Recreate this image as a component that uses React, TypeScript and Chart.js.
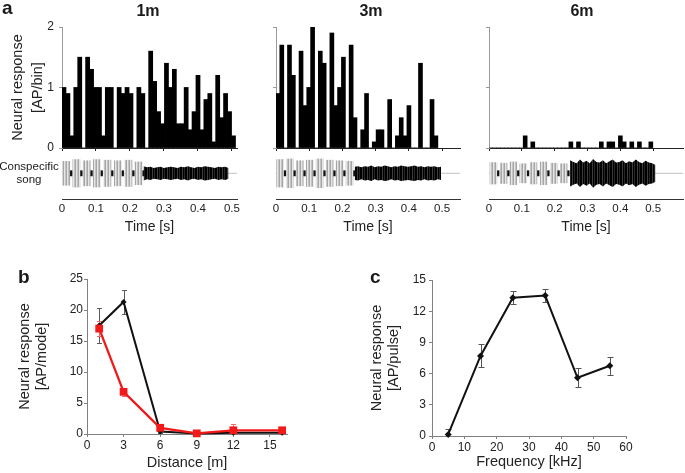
import React, { useEffect, useRef } from 'react';
import { Chart, registerables } from 'chart.js';

Chart.register(...registerables);

const FONT = "'Liberation Sans', Arial, Helvetica, sans-serif";
Chart.defaults.font.family = FONT;
Chart.defaults.color = '#222';

const W = 685;
const H = 473;

// ---------- Panel a : PSTH (AP/bin) ----------
const BIN = 0.0116; // s
const psth1m = [1.0, 0.9, 0.2, 1.0, 1.5, 0, 1.5, 1.3, 1.0, 1.0, 0.2, 1.0, 1.0, 0, 1.0, 0.9, 1.0, 0.9, 0, 1.0, 0.9, 0,
  1.6, 1.1, 0.6, 0.4, 1.4, 1.0, 1.3, 0.4, 0.4, 1.0, 0.3, 0.6, 1.2, 0.3, 0.8, 0.9, 0.1, 1.2, 0.5, 0.9, 0.6, 0.2];
const psth3m = [0.9, 1.7, 0, 1.7, 1.2, 0, 1.6, 0.7, 1.0, 2.0, 0, 1.6, 1.4, 0, 1.9, 0.7, 1.0, 1.5, 0, 1.7, 0.5, 0, 0.3, 0.9,
  0, 0.1, 0.3, 0.3, 0, 0.8, 0, 0.2, 0.5, 0.2, 0.7, 0, 0, 1.4, 0, 0, 0.8, 0.2];
const psth6m = [0, 0, 0, 0, 0, 0, 0, 0, 0, 0.2, 0, 0.1, 0, 0, 0, 0, 0, 0, 0, 0, 0, 0.1, 0, 0.1, 0, 0, 0, 0, 0, 0.1, 0,
  0.1, 0.1, 0, 0.2, 0.1, 0, 0.1, 0, 0.1, 0, 0, 0.1];
const timeTicksStep = 0.1;

// ---------- Panel a : conspecific song (envelope, relative amplitude) ----------
const PULSE_W = 0.021;
const NOISE_STEP = 0.01;
const pulseT1m = [0.002, 0.032, 0.062, 0.092, 0.123, 0.154, 0.185, 0.215];
const pulseA1m = [1.0, 1.15, 1.05, 1.15, 1.1, 1.05, 1.1, 0.95];
const noiseStart1m = 0.24;
const noise1m = [0.6, 0.5, 0.55, 0.45, 0.5, 0.55, 0.45, 0.5, 0.55, 0.5, 0.45, 0.55, 0.5, 0.6, 0.5, 0.45, 0.55, 0.5, 0.6,
  0.55, 0.5, 0.45, 0.55, 0.5, 0.55, 0.45];
const pulseT3m = [0.002, 0.031, 0.061, 0.091, 0.121, 0.151, 0.181, 0.211];
const pulseA3m = [1.15, 1.2, 1.05, 1.1, 1.2, 1.1, 1.05, 1.0];
const noiseStart3m = 0.237;
const noise3m = [0.55, 0.6, 0.5, 0.6, 0.55, 0.65, 0.5, 0.6, 0.55, 0.65, 0.6, 0.5, 0.6, 0.55, 0.65, 0.6, 0.55, 0.6, 0.65,
  0.55, 0.6, 0.5, 0.6, 0.55, 0.6, 0.5, 0.55];
const pulseT6m = [0.003, 0.034, 0.064, 0.094, 0.125, 0.156, 0.187, 0.217];
const pulseA6m = [0.9, 0.85, 0.95, 0.8, 0.9, 0.95, 0.85, 0.8];
const noiseStart6m = 0.247;
const noise6m = [1.1, 0.95, 0.85, 1.15, 0.9, 1.05, 0.85, 1.2, 0.95, 0.9, 1.1, 0.85, 1.0, 1.15, 0.9, 0.95, 1.1, 0.85, 1.0,
  0.9, 1.15, 0.95, 0.85, 1.05, 0.9, 0.85, 0.7];

// ---------- Panel b ----------
const distX = [1, 3, 6, 9, 12, 16];
const bBlack = [17.5, 21.3, 0.4, 0.1, 0.2, 0.2];
const bBlackErr = [2.8, 1.9, 0.3, 0.1, 0.2, 0.2];
const bRed = [17.0, 6.8, 1.0, 0.1, 0.6, 0.6];
const bRedErr = [1.2, 0.7, 0.5, 0.2, 1.0, 0.3];

// ---------- Panel c ----------
const freqX = [5, 15, 25, 35, 45, 55];
const cResp = [0.15, 7.7, 13.3, 13.5, 5.6, 6.75];
const cErr = [0.5, 1.1, 0.6, 0.6, 0.9, 0.85];

// ---------- helpers ----------
const errorBars = {
  id: 'errorBars',
  beforeDatasetsDraw(chart: any) {
    const { ctx, scales } = chart;
    const xs = scales.x;
    const ys = scales.y;
    chart.data.datasets.forEach((ds: any) => {
      if (!ds.errors) return;
      ctx.save();
      ctx.strokeStyle = ds.errorColor;
      ctx.lineWidth = 1;
      const cw = (ds.capWidth || 5) / 2;
      ds.data.forEach((p: any, i: number) => {
        const e = ds.errors[i];
        const px = Math.round(xs.getPixelForValue(p.x)) + 0.5;
        const top = Math.round(ys.getPixelForValue(p.y + e)) + 0.5;
        const rawBot = ys.getPixelForValue(p.y - e);
        const bot = Math.min(Math.round(rawBot) + 0.5, ys.bottom);
        ctx.beginPath();
        ctx.moveTo(px, top);
        ctx.lineTo(px, bot);
        ctx.moveTo(px - cw, top);
        ctx.lineTo(px + cw, top);
        if (rawBot < ys.bottom) {
          ctx.moveTo(px - cw, bot);
          ctx.lineTo(px + cw, bot);
        }
        ctx.stroke();
      });
      ctx.restore();
    });
  },
};

const patterns: Record<string, any> = {};
function stripes(key: string, cols: string[]) {
  if (patterns[key]) return patterns[key];
  const pc = document.createElement('canvas');
  pc.width = cols.length;
  pc.height = 1;
  const g = pc.getContext('2d')!;
  cols.forEach((c, i) => {
    g.fillStyle = c;
    g.fillRect(i, 0, 1, 1);
  });
  patterns[key] = g.createPattern(pc, 'repeat');
  return patterns[key];
}

const baseOpts = {
  animation: false,
  responsive: false,
  devicePixelRatio: 1,
  events: [] as any[],
};
const noPlugins = { legend: { display: false }, tooltip: { enabled: false } };

function histConfig(values: number[], tmax: number, L: number, R: number, showY: boolean): any {
  const T = 27;
  const B = 148;
  const yw = showY ? 54 : 3;
  const xh = 3;
  return {
    type: 'bar',
    data: {
      datasets: [
        {
          data: values.map((v, i) => ({ x: (i + 0.5) * BIN, y: v })),
          backgroundColor: '#000',
          borderWidth: 0,
          barPercentage: 1,
          categoryPercentage: 1,
          inflateAmount: 0.4,
        },
      ],
    },
    options: {
      ...baseOpts,
      layout: { padding: { left: L - yw, right: W - R, top: T, bottom: H - B - xh } },
      plugins: noPlugins,
      scales: {
        x: {
          type: 'linear',
          min: 0,
          max: tmax,
          offset: false,
          grid: { offset: false, drawOnChartArea: false, drawTicks: true, tickLength: 3, color: '#222' },
          border: { color: '#222', width: 1 },
          ticks: { display: false, stepSize: timeTicksStep, includeBounds: false },
          afterFit: (s: any) => { s.height = xh; },
        },
        y: {
          min: 0,
          max: 2,
          ticks: { display: showY, stepSize: 1, font: { size: 12 }, color: '#222', padding: 5 },
          grid: { drawOnChartArea: false, drawTicks: true, tickLength: 3, color: '#999' },
          border: { color: '#999', width: 1 },
          title: {
            display: showY,
            text: ['Neural response', '[AP/bin]'],
            font: { size: 14.5, lineHeight: 1.4 },
            color: '#222',
            padding: 0,
          },
          afterFit: (s: any) => { s.width = yw; },
        },
      },
    },
  };
}

function songConfig(pT: number[], pA: number[], nStart: number, nA: number[], tmax: number, L: number, R: number): any {
  const T = 153;
  const B = 199;
  const xh = 36;
  const pxs = (R - L) / tmax;
  return {
    type: 'bar',
    data: {
      datasets: [
        {
          type: 'line',
          data: [{ x: 0, y: 0 }, { x: tmax, y: 0 }],
          borderColor: '#b0b0b0',
          borderWidth: 0.8,
          pointRadius: 0,
          order: 6,
        },
        {
          type: 'bar',
          data: pT.map((t, i) => ({ x: t + PULSE_W / 2, y: [-pA[i], pA[i]] })),
          backgroundColor: stripes('pulse', ['#a6a6a6', '#e6e6e6', '#c4c4c4']),
          barThickness: PULSE_W * pxs,
          grouped: false,
          order: 5,
        },
        {
          type: 'line',
          data: nA.map((a, i) => ({ x: nStart + i * NOISE_STEP, y: a })),
          borderWidth: 0,
          borderColor: 'rgba(0,0,0,0)',
          pointRadius: 0,
          fill: '+1',
          backgroundColor: stripes('noise', ['#000', '#000', '#3c3c3c', '#000', '#262626']),
          tension: 0,
          order: 3,
        },
        {
          type: 'line',
          data: nA.map((a, i) => ({ x: nStart + i * NOISE_STEP, y: -a })),
          borderWidth: 0,
          borderColor: 'rgba(0,0,0,0)',
          pointRadius: 0,
          fill: false,
          tension: 0,
          order: 4,
        },
        {
          type: 'bar',
          data: pT.map((t) => ({ x: t + PULSE_W + 0.004, y: [-0.22, 0.22] })),
          backgroundColor: '#111',
          barThickness: 1.6,
          grouped: false,
          order: 2,
        },
      ],
    },
    options: {
      ...baseOpts,
      layout: { padding: { left: L, right: W - R, top: T, bottom: H - B - xh } },
      plugins: noPlugins,
      scales: {
        x: {
          type: 'linear',
          min: 0,
          max: tmax,
          offset: false,
          grid: { display: true, drawOnChartArea: false, drawTicks: false, offset: false, color: '#333' },
          border: { display: true, color: '#333', width: 1 },
          ticks: {
            stepSize: timeTicksStep,
            includeBounds: false,
            font: { size: 11.5 },
            color: '#222',
            padding: 3,
            maxRotation: 0,
            autoSkip: false,
          },
          title: { display: true, text: 'Time [s]', font: { size: 14, lineHeight: 1.15 }, color: '#222', padding: 0 },
          afterFit: (s: any) => { s.height = xh; },
        },
        y: { display: false, min: -2.15, max: 1.7 },
      },
    },
  };
}

function xyAxes(opts: {
  L: number; R: number; T: number; B: number; yw: number; xh: number;
  xmax: number; xstep: number; ymax: number; ystep: number; xtitle: string; ytitle: string[]; ypad: number;
}): any {
  const axisColor = '#808080';
  return {
    layout: { padding: { left: opts.L - opts.yw, right: W - opts.R, top: opts.T, bottom: H - opts.B - opts.xh } },
    scales: {
      x: {
        type: 'linear',
        min: 0,
        max: opts.xmax,
        grid: { drawOnChartArea: false, drawTicks: true, tickLength: 3, color: axisColor },
        border: { color: axisColor, width: 1 },
        ticks: { stepSize: opts.xstep, includeBounds: false, font: { size: 12 }, color: '#222', padding: 1, maxRotation: 0, autoSkip: false },
        title: { display: true, text: opts.xtitle, font: { size: 14.5, lineHeight: 1.15 }, color: '#222', padding: 0 },
        afterFit: (s: any) => { s.height = opts.xh; },
      },
      y: {
        min: 0,
        max: opts.ymax,
        grid: { drawOnChartArea: false, drawTicks: true, tickLength: 3, color: axisColor },
        border: { color: axisColor, width: 1 },
        ticks: { stepSize: opts.ystep, font: { size: 12 }, color: '#222', padding: opts.ypad },
        title: { display: true, text: opts.ytitle, font: { size: 14.5, lineHeight: 1.15 }, color: '#222', padding: 0 },
        afterFit: (s: any) => { s.width = opts.yw; },
      },
    },
  };
}

function panelBConfig(): any {
  const ax = xyAxes({
    L: 87, R: 287, T: 279, B: 434, yw: 70, xh: 37, xmax: 16.4, xstep: 3, ymax: 25, ystep: 5,
    xtitle: 'Distance [m]', ytitle: ['Neural response', '[AP/mode]'], ypad: 1,
  });
  return {
    type: 'line',
    data: {
      datasets: [
        {
          data: distX.map((x, i) => ({ x, y: bBlack[i] })),
          borderColor: '#111',
          backgroundColor: '#111',
          borderWidth: 2,
          pointStyle: 'rectRot',
          pointRadius: 3,
          pointBorderWidth: 0,
          errors: bBlackErr,
          errorColor: '#5a5a5a',
          capWidth: 5,
          clip: false,
          order: 2,
        },
        {
          data: distX.map((x, i) => ({ x, y: bRed[i] })),
          borderColor: '#f2191b',
          backgroundColor: '#f2191b',
          borderWidth: 2.3,
          pointStyle: 'rect',
          pointRadius: 5.5,
          pointBorderWidth: 0,
          errors: bRedErr,
          errorColor: '#f06a6a',
          capWidth: 5,
          clip: false,
          order: 1,
        },
      ],
    },
    options: { ...baseOpts, ...ax, plugins: noPlugins },
    plugins: [errorBars],
  };
}

function panelCConfig(): any {
  const ax = xyAxes({
    L: 432, R: 626, T: 280, B: 436, yw: 63, xh: 34, xmax: 60, xstep: 10, ymax: 15, ystep: 3,
    xtitle: 'Frequency [kHz]', ytitle: ['Neural response', '[AP/pulse]'], ypad: 3,
  });
  return {
    type: 'line',
    data: {
      datasets: [
        {
          data: freqX.map((x, i) => ({ x, y: cResp[i] })),
          borderColor: '#111',
          backgroundColor: '#111',
          borderWidth: 2,
          pointStyle: 'rectRot',
          pointRadius: 3.5,
          pointBorderWidth: 0,
          errors: cErr,
          errorColor: '#555',
          capWidth: 6,
          clip: false,
        },
      ],
    },
    options: { ...baseOpts, ...ax, plugins: noPlugins },
    plugins: [errorBars],
  };
}

function ChartCanvas({ make }: { make: () => any }) {
  const ref = useRef<HTMLCanvasElement>(null);
  useEffect(() => {
    const chart = new Chart(ref.current as HTMLCanvasElement, make());
    return () => chart.destroy();
  }, []);
  return (
    <canvas
      ref={ref}
      width={W}
      height={H}
      style={{ position: 'absolute', left: 0, top: 0, width: W, height: H }}
    />
  );
}

function Txt({ x, base, size, bold, center, children }: any) {
  const style: React.CSSProperties = {
    position: 'absolute',
    left: x,
    top: base - 0.8465 * size,
    fontSize: size,
    lineHeight: `${size}px`,
    fontWeight: bold ? 700 : 400,
    fontFamily: FONT,
    color: '#1a1a1a',
    whiteSpace: 'nowrap',
    transform: center ? 'translateX(-50%)' : undefined,
  };
  return <div style={style}>{children}</div>;
}

// panel a horizontal layout (chart-area left/right, time range)
const A1 = { L: 62, R: 237, tmax: 0.515 };
const A2 = { L: 276, R: 460, tmax: 0.554 };
const A3 = { L: 489, R: 683, tmax: 0.591 };

export default function App() {
  return (
    <div style={{ position: 'fixed', left: 0, top: 0, width: W, height: H, background: '#fff', overflow: 'hidden' }}>
      <ChartCanvas make={() => histConfig(psth1m, A1.tmax, A1.L, A1.R, true)} />
      <ChartCanvas make={() => histConfig(psth3m, A2.tmax, A2.L, A2.R, false)} />
      <ChartCanvas make={() => histConfig(psth6m, A3.tmax, A3.L, A3.R, false)} />
      <ChartCanvas make={() => songConfig(pulseT1m, pulseA1m, noiseStart1m, noise1m, A1.tmax, A1.L, A1.R)} />
      <ChartCanvas make={() => songConfig(pulseT3m, pulseA3m, noiseStart3m, noise3m, A2.tmax, A2.L, A2.R)} />
      <ChartCanvas make={() => songConfig(pulseT6m, pulseA6m, noiseStart6m, noise6m, A3.tmax, A3.L, A3.R)} />
      <ChartCanvas make={panelBConfig} />
      <ChartCanvas make={panelCConfig} />

      <Txt x={2} base={14} size={19} bold>a</Txt>
      <Txt x={18} base={283} size={19} bold>b</Txt>
      <Txt x={370} base={283} size={19} bold>c</Txt>
      <Txt x={148} base={17} size={16} bold center>1m</Txt>
      <Txt x={371} base={17} size={16} bold center>3m</Txt>
      <Txt x={582} base={17} size={16} bold center>6m</Txt>
      <Txt x={29} base={171} size={11.5} center>Conspecific</Txt>
      <Txt x={29} base={184} size={11.5} center>song</Txt>
    </div>
  );
}
